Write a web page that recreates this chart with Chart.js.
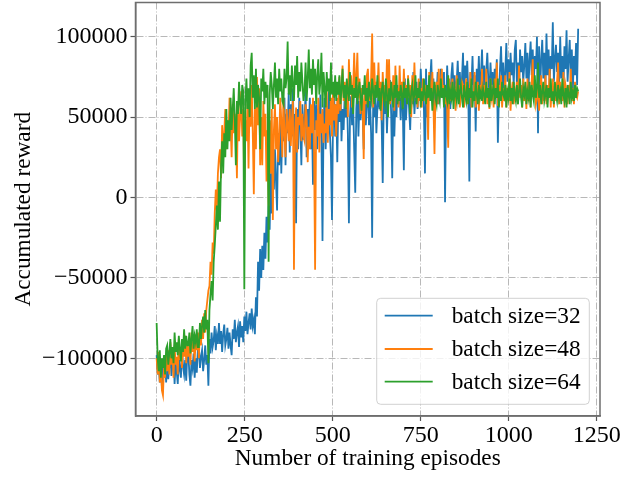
<!DOCTYPE html>
<html><head><meta charset="utf-8">
<script src="https://cdn.jsdelivr.net/npm/chart.js@4.4.1/dist/chart.umd.min.js"></script>
<style>html,body{margin:0;padding:0;background:#fff;}canvas{display:block;}</style>
</head><body>
<canvas id="c" width="641" height="477"></canvas>
<script>
const EPISODE_STEP = 3;
const REWARD_UNIT = 1000;
const batch32 = [
-98,-110,-104,-115,-101,-118,-106,-112,-99,-115,
-100,-113,-105,-96,-111,-104,-98,-116,-103,-108,
-116,-99,-107,-112,-94,-105,-110,-101,-114,-97,
-96,-110,-117,-101,-106,-97,-112,-100,-109,-95,
-93,-106,-99,-95,-108,-101,-92,-104,-98,-117,
-88,-97,-84,-93,-89,-80,-95,-86,-91,-78,
-91,-83,-96,-85,-79,-92,-88,-81,-94,-84,
-92,-98,-82,-88,-76,-90,-84,-80,-93,-77,
-87,-80,-90,-74,-83,-71,-85,-78,-72,-82,
-69,-80,-76,-85,-62,-74,-40,-58,-32,-50,
-30,-45,-22,-38,-12,-28,-5,-20,15,-10,
25,5,30,10,-8,40,20,55,15,45,
35,62,20,52,40,65,28,58,38,68,
30,52,-16,55,30,62,45,20,58,36,
48,66,25,55,40,62,30,50,8,60,
42,58,30,55,45,64,35,-27,48,62,
30,57,45,66,40,25,-14,52,64,38,
58,22,61,47,68,35,55,42,64,50,
68,40,-16,50,63,45,58,30,3,55,
70,38,60,48,66,52,30,64,45,58,
72,45,60,40,-25,62,50,68,40,56,
64,55,70,46,9,62,52,70,40,60,
60,73,52,12,65,38,62,50,70,58,
66,48,68,56,17,74,48,63,70,55,
42,66,58,78,52,64,72,55,68,60,
80,64,72,55,15,80,50,68,62,74,
86,60,74,52,70,64,78,58,68,80,
62,66,78,-3,58,82,64,72,55,76,
84,68,76,60,72,85,66,78,62,74,
90,62,82,74,85,66,10,78,70,88,
63,76,41,80,70,88,63,76,92,68,
82,60,79,90,72,66,84,70,78,62,
80,72,86,34,65,80,94,70,84,62,
78,96,72,86,66,90,76,84,70,92,
98,70,84,64,92,78,88,72,82,96,
74,90,68,86,97,76,92,70,88,80,
100,40,94,66,86,98,74,90,68,102,
76,92,70,88,80,109,72,86,95,78,
90,70,100,74,88,66,94,80,104,72,
86,98,74,92,68,88,76,96,70,105
];
const batch48 = [
-100,-110,-96,-115,-105,-120,-123,-104,-112,-98,
-108,-95,-110,-90,-104,-97,-112,-92,-104,-99,
-110,-88,-101,-94,-106,-90,-99,-86,-103,-92,
-99,-92,-104,-84,-96,-90,-102,-88,-95,-84,
-100,-80,-92,-76,-88,-72,-84,-70,-64,-58,
-55,-40,-48,-28,-35,-10,5,-8,15,25,
30,12,45,28,40,55,30,48,38,62,
45,25,58,40,52,44,12,60,35,50,
66,38,55,0,48,35,58,18,62,44,
70,40,2,55,30,75,45,68,20,50,
20,60,38,52,10,42,-5,48,15,55,
-14,42,58,30,50,22,36,62,48,25,
62,40,25,55,46,35,55,32,48,60,
-45,40,56,28,50,45,60,35,52,38,
35,58,50,22,44,30,58,40,62,30,
-45,48,38,62,28,52,40,55,34,46,
40,66,34,55,45,62,38,70,48,58,
38,62,52,75,54,68,82,60,72,56,
72,50,86,64,76,56,68,90,62,74,
90,62,74,52,68,60,24,70,58,76,
80,60,66,74,102,56,84,62,72,66,
84,62,72,48,78,64,70,60,86,58,
86,58,70,60,76,54,82,62,68,56,
82,62,72,56,80,64,70,58,76,62,
70,50,76,60,84,62,68,56,74,60,
68,56,74,60,70,64,60,36,78,66,
64,78,58,27,66,72,58,80,62,70,
80,62,70,58,66,56,31,74,60,68,
74,60,68,54,76,62,70,56,64,72,
70,56,64,74,58,68,62,78,56,66,
60,78,56,66,72,54,70,62,80,58,
70,62,80,58,68,55,74,62,66,56,
74,62,84,57,70,64,76,56,68,60,
76,56,68,60,78,54,66,72,58,64,
66,72,58,82,62,70,56,74,60,68,
55,74,60,68,56,72,86,62,72,58,
62,72,54,66,76,58,70,60,76,58,
70,62,80,56,68,74,56,68,60,72,
84,58,72,64,60,78,56,70,66,58,
70,62,80,60,68,58,72,64,62,66
];
const batch64 = [
-78,-100,-108,-95,-112,-100,-106,-98,-110,-94,
-92,-104,-97,-88,-100,-93,-103,-84,-96,-90,
-98,-86,-94,-102,-88,-96,-82,-94,-86,-92,
-92,-84,-97,-88,-80,-94,-86,-90,-82,-93,
-93,-78,-88,-80,-74,-84,-70,-82,-76,-103,
-70,-60,-52,-64,-40,-30,-18,-5,-20,10,
-15,20,35,15,40,25,55,30,48,35,
62,42,55,68,48,20,60,52,72,58,
52,70,66,-57,60,74,55,68,50,82,
90,62,76,55,80,56,70,62,30,74,
66,80,58,72,62,70,-40,64,78,70,
55,70,84,62,74,58,80,66,74,60,
58,80,68,74,97,64,76,60,82,70,
60,82,70,88,62,78,66,84,72,60,
66,84,60,74,92,68,80,64,86,70,
80,58,76,86,64,72,90,56,78,68,
56,78,66,74,60,84,64,72,62,76,
60,72,64,76,58,68,80,62,70,55,
74,66,60,78,64,70,52,68,62,75,
58,66,72,62,54,70,64,76,60,68,
56,72,64,60,74,66,58,70,62,76,
60,68,54,66,72,62,58,74,64,50,
68,60,72,64,56,70,62,76,58,66,
60,70,64,55,72,62,68,58,74,64,
52,66,70,60,64,76,58,68,62,72,
56,66,60,74,64,58,70,62,76,60,
68,54,66,72,62,58,70,64,60,74,
62,68,56,70,64,60,76,58,66,62,
72,55,68,64,60,74,58,66,70,62,
56,70,64,60,72,58,68,62,74,56,
66,60,72,64,58,70,62,66,60,68,
64,58,72,62,68,56,74,60,66,70,
58,68,62,74,56,66,60,72,64,62,
70,56,66,62,74,60,68,58,72,64,
60,70,58,66,74,62,56,68,64,72,
58,66,62,72,56,70,64,60,76,62,
68,84,62,70,58,66,72,60,64,70,
56,68,62,74,60,66,58,72,64,60,
70,62,66,58,74,64,60,68,56,70,
64,58,72,62,66,60,70,62,68,66
];
const seriesLabels = ['batch size=32', 'batch size=48', 'batch size=64'];
const seriesColors = ['#1f77b4', '#ff7f0e', '#2ca02c'];
const xTicks = [0, 250, 500, 750, 1000, 1250];
const xTickLabels = ['0', '250', '500', '750', '1000', '1250'];
const yTicks = [-100000, -50000, 0, 50000, 100000];
const yTickLabels = ['\u2212100000', '\u221250000', '0', '50000', '100000'];
const xLabel = 'Number of training episodes';
const yLabel = 'Accumulated reward';

const FONT = '"Liberation Serif", "Times New Roman", serif';
const FS_TICK = 24;
const FS_LABEL = 23.3;
const seriesValues = [batch32, batch48, batch64];

function toPoints(arr) {
  return arr.map((v, i) => ({ x: i * EPISODE_STEP, y: v * REWARD_UNIT }));
}

const datasets = seriesValues.map((arr, k) => ({
  label: seriesLabels[k],
  data: toPoints(arr),
  borderColor: seriesColors[k],
  backgroundColor: seriesColors[k],
  borderWidth: 1.8,
  pointRadius: 0,
  tension: 0,
  fill: false,
  order: 3 - k
}));

const framePlugin = {
  id: 'frameAndLegend',
  afterDatasetsDraw(chart) {
    const { ctx, chartArea: a } = chart;
    ctx.save();
    ctx.strokeStyle = '#6e6e6e';
    ctx.lineWidth = 1.5;
    ctx.strokeRect(a.left, a.top, a.right - a.left, a.bottom - a.top);

    // legend box (lower right, inside axes)
    const w = 212.6, h = 106;
    const bx = a.right - 10.7 - w, by = a.bottom - 11.7 - h;
    ctx.beginPath();
    ctx.roundRect(bx, by, w, h, 4);
    ctx.fillStyle = 'rgba(255,255,255,0.8)';
    ctx.fill();
    ctx.strokeStyle = 'rgba(204,204,204,0.9)';
    ctx.lineWidth = 1;
    ctx.stroke();
    ctx.font = FS_LABEL + 'px ' + FONT;
    ctx.textBaseline = 'middle';
    ctx.textAlign = 'left';
    const rows = [17.4, 50.7, 83.4];
    seriesLabels.forEach((lab, k) => {
      const yy = by + rows[k];
      ctx.beginPath();
      ctx.moveTo(bx + 8, yy);
      ctx.lineTo(bx + 56, yy);
      ctx.strokeStyle = seriesColors[k];
      ctx.lineWidth = 1.8;
      ctx.stroke();
      ctx.fillStyle = '#000';
      ctx.fillText(lab, bx + 75, yy + 1);
    });
    ctx.restore();
  }
};

new Chart(document.getElementById('c'), {
  type: 'line',
  data: { datasets },
  plugins: [framePlugin],
  options: {
    responsive: false,
    animation: false,
    devicePixelRatio: 1,
    parsing: false,
    normalized: true,
    layout: { padding: { left: 0, top: 2.5, right: 41, bottom: 0 } },
    plugins: { legend: { display: false }, tooltip: { enabled: false } },
    scales: {
      x: {
        type: 'linear',
        min: -60, max: 1259,
        afterBuildTicks: s => { s.ticks = xTicks.map(v => ({ value: v })); },
        afterFit: s => { s.height = 61; s.paddingLeft = 0; s.paddingRight = 0; },
        ticks: {
          callback: v => xTickLabels[xTicks.indexOf(v)],
          font: { family: FONT, size: FS_TICK }, color: '#000',
          padding: 0, maxRotation: 0, autoSkip: false
        },
        grid: { color: '#b8b8b8', lineWidth: 1, tickLength: 5, tickColor: '#555', tickWidth: 1.2, tickBorderDash: [] },
        border: { display: true, color: '#6e6e6e', width: 1.5, dash: [7, 2, 1, 2] },
        title: { display: true, text: xLabel, font: { family: FONT, size: FS_LABEL }, color: '#000', padding: { top: 0, bottom: 4 } }
      },
      y: {
        type: 'linear',
        min: -135880, max: 121270,
        afterBuildTicks: s => { s.ticks = yTicks.map(v => ({ value: v })); },
        afterFit: s => { s.width = 135.5; s.paddingTop = 0; s.paddingBottom = 0; },
        ticks: {
          callback: v => yTickLabels[yTicks.indexOf(v)],
          font: { family: FONT, size: FS_TICK }, color: '#000', padding: 3, autoSkip: false
        },
        grid: { color: '#b8b8b8', lineWidth: 1, tickLength: 5, tickColor: '#555', tickWidth: 1.2, tickBorderDash: [] },
        border: { display: true, color: '#6e6e6e', width: 1.5, dash: [7, 2, 1, 2] },
        title: { display: true, text: yLabel, font: { family: FONT, size: FS_LABEL }, color: '#000', padding: { top: 10, bottom: 0 } }
      }
    }
  }
});
</script>
</body></html>
